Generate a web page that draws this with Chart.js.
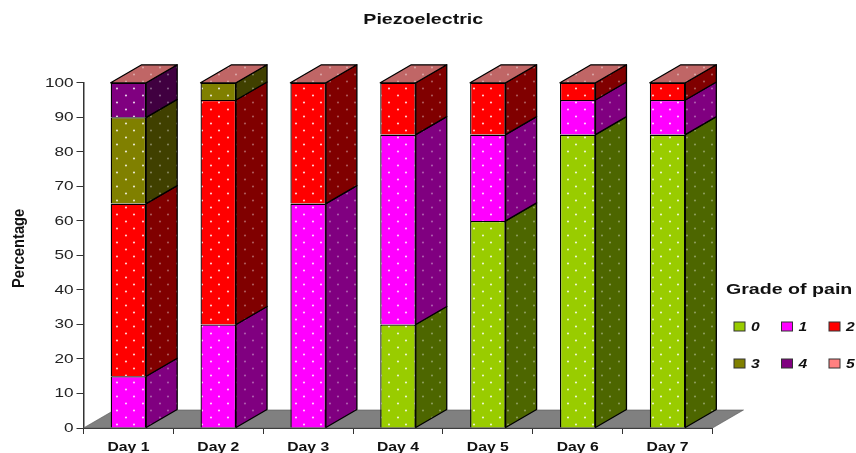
<!DOCTYPE html>
<html>
<head>
<meta charset="utf-8">
<title>Piezoelectric</title>
<script src="https://cdn.jsdelivr.net/npm/chart.js@4"></script>
<style>
  html, body { margin: 0; padding: 0; background: #fff; }
  canvas { display: block; }
</style>
</head>
<body>
<canvas id="painChart" width="856" height="453"></canvas>
<script>
const days = ["Day 1", "Day 2", "Day 3", "Day 4", "Day 5", "Day 6", "Day 7"];
const grade0 = [0, 0, 0, 30, 60, 85, 85];
const grade1 = [15, 30, 65, 55, 25, 10, 10];
const grade2 = [50, 65, 35, 15, 15, 5, 5];
const grade3 = [25, 5, 0, 0, 0, 0, 0];
const grade4 = [10, 0, 0, 0, 0, 0, 0];
const grade5 = [0, 0, 0, 0, 0, 0, 0];
const gradeNames = ["0", "1", "2", "3", "4", "5"];
const gradeColors = ["#99CC00", "#FF00FF", "#FF0000", "#808000", "#800080", "#FF8080"];
const sideColors = ["#4D6600", "#800080", "#800000", "#404000", "#400040", "#804040"];
const topColor = "#C06666";

// depth of the fake 3D box, in pixels
const depthX = 31;
const depthY = 18;

const canvas = document.getElementById("painChart");
const ctx2d = canvas.getContext("2d");

// the original's text is stretched sideways, no installed font does that
const plainFillText = ctx2d.fillText.bind(ctx2d);
function widthFactor(text, font) {
  if (text === "Percentage") return 0.92;
  if (font.includes("italic")) return 1.2;
  if (text.startsWith("Day")) return 1.25;
  if (font.includes("bold")) return 1.4;
  return 1.27;
}
ctx2d.fillText = function (text, x, y) {
  ctx2d.save();
  // axis title sits above the middle of the axis (context is rotated there)
  ctx2d.translate(text === "Percentage" ? x + 7 : x, y);
  ctx2d.scale(widthFactor(String(text), ctx2d.font), 1);
  plainFillText(text, 0, 0);
  ctx2d.restore();
};

// dotted fill used on all the faces
function dots(color, alpha) {
  const c = document.createElement("canvas");
  c.width = 17;
  c.height = 14;
  const g = c.getContext("2d");
  g.fillStyle = color;
  g.fillRect(0, 0, 17, 14);
  g.fillStyle = `rgba(255,255,255,${alpha})`;
  g.beginPath();
  g.arc(15, 4.5, 1.1, 0, Math.PI * 2);
  g.arc(7, 11.5, 1.1, 0, Math.PI * 2);
  g.fill();
  return g.createPattern(c, "repeat");
}

function face(ctx, pts, fill) {
  ctx.beginPath();
  ctx.moveTo(pts[0][0], pts[0][1]);
  pts.slice(1).forEach(p => ctx.lineTo(p[0], p[1]));
  ctx.closePath();
  ctx.fillStyle = fill;
  ctx.fill();
  ctx.stroke();
}

const box3d = {
  id: "box3d",
  afterLayout(chart) {
    // title is not centred on the plot, it sits over the middle of the canvas
    chart.titleBlock.left += 67;
    chart.titleBlock.right += 67;
  },
  beforeDatasetsDraw(chart) {
    const ctx = chart.ctx;
    const a = chart.chartArea;
    ctx.save();
    ctx.strokeStyle = "#555";
    ctx.lineWidth = 0.6;
    face(ctx, [
      [a.left, a.bottom],
      [a.left + depthX, a.bottom - depthY],
      [a.right + depthX, a.bottom - depthY],
      [a.right, a.bottom]
    ], "#808080");
    ctx.restore();
  },
  afterDatasetsDraw(chart) {
    const ctx = chart.ctx;
    ctx.save();
    ctx.strokeStyle = "#000";
    ctx.lineWidth = 1.3;
    ctx.lineJoin = "round";
    chart.data.datasets.forEach((ds, i) => {
      chart.getDatasetMeta(i).data.forEach(bar => {
        if (Math.abs(bar.base - bar.y) < 0.5) return;
        const r = bar.x + bar.width / 2;
        face(ctx, [
          [r, bar.y],
          [r + depthX, bar.y - depthY],
          [r + depthX, bar.base - depthY],
          [r, bar.base]
        ], dots(sideColors[i], 0.35));
      });
    });
    // lid of each stack, the last dataset is zero so its y is the stack top
    chart.getDatasetMeta(chart.data.datasets.length - 1).data.forEach(bar => {
      const l = bar.x - bar.width / 2;
      const r = bar.x + bar.width / 2;
      face(ctx, [
        [l, bar.y],
        [l + depthX, bar.y - depthY],
        [r + depthX, bar.y - depthY],
        [r, bar.y]
      ], dots(topColor, 0.4));
    });
    ctx.restore();
  },
  afterDraw(chart) {
    // legend laid out as 3 x 2 like the original
    const ctx = chart.ctx;
    ctx.save();
    ctx.fillStyle = "#111";
    ctx.textBaseline = "middle";
    ctx.textAlign = "left";
    ctx.font = "bold 14px 'Liberation Sans'";
    ctx.fillText("Grade of pain", 726, 290.5);
    ctx.font = "italic bold 13px 'Liberation Sans'";
    gradeNames.forEach((name, i) => {
      const x = 734 + (i % 3) * 47.5;
      const y = i < 3 ? 326.5 : 363.5;
      ctx.fillStyle = gradeColors[i];
      ctx.strokeStyle = "#333";
      ctx.lineWidth = 1;
      ctx.fillRect(x, y - 4.5, 11, 9);
      ctx.strokeRect(x, y - 4.5, 11, 9);
      ctx.fillStyle = "#111";
      ctx.fillText(name, x + 17, y + 0.5);
    });
    ctx.restore();
  }
};

const grades = [grade0, grade1, grade2, grade3, grade4, grade5];

new Chart(canvas, {
  type: "bar",
  data: {
    labels: days,
    datasets: grades.map((values, i) => ({
      label: gradeNames[i],
      data: values,
      backgroundColor: dots(gradeColors[i], 0.8),
      borderColor: "#000",
      borderWidth: 1.3,
      categoryPercentage: 1,
      barPercentage: 0.395
    }))
  },
  options: {
    responsive: false,
    animation: false,
    devicePixelRatio: 1,
    layout: { padding: { left: 0, right: 143.5, top: 0, bottom: 0 } },
    plugins: {
      legend: { display: false },
      tooltip: { enabled: false },
      title: {
        display: true,
        text: "Piezoelectric",
        color: "#111",
        font: { family: "Liberation Sans", size: 14, weight: "bold" },
        padding: { top: 12, bottom: 54 }
      }
    },
    scales: {
      x: {
        stacked: true,
        afterFit(scale) { scale.height = 25; },
        border: { color: "#333", width: 1 },
        grid: { drawOnChartArea: false, color: "#333", tickLength: 6 },
        ticks: {
          color: "#111",
          padding: 6,
          maxRotation: 0,
          font: { family: "Liberation Sans", size: 12.6, weight: "bold" }
        }
      },
      y: {
        stacked: true,
        min: 0,
        max: 100,
        afterFit(scale) { scale.width = 83.5; },
        border: { color: "#333", width: 1.5 },
        grid: { drawOnChartArea: false, color: "#333", tickLength: 7 },
        ticks: {
          stepSize: 10,
          color: "#222",
          padding: 3,
          font: { family: "Liberation Sans", size: 13.5 }
        },
        title: {
          display: true,
          text: "Percentage",
          color: "#111",
          padding: { top: 10, bottom: 0 },
          font: { family: "Liberation Sans", size: 16, weight: "bold" }
        }
      }
    }
  },
  plugins: [box3d]
});
</script>
</body>
</html>
